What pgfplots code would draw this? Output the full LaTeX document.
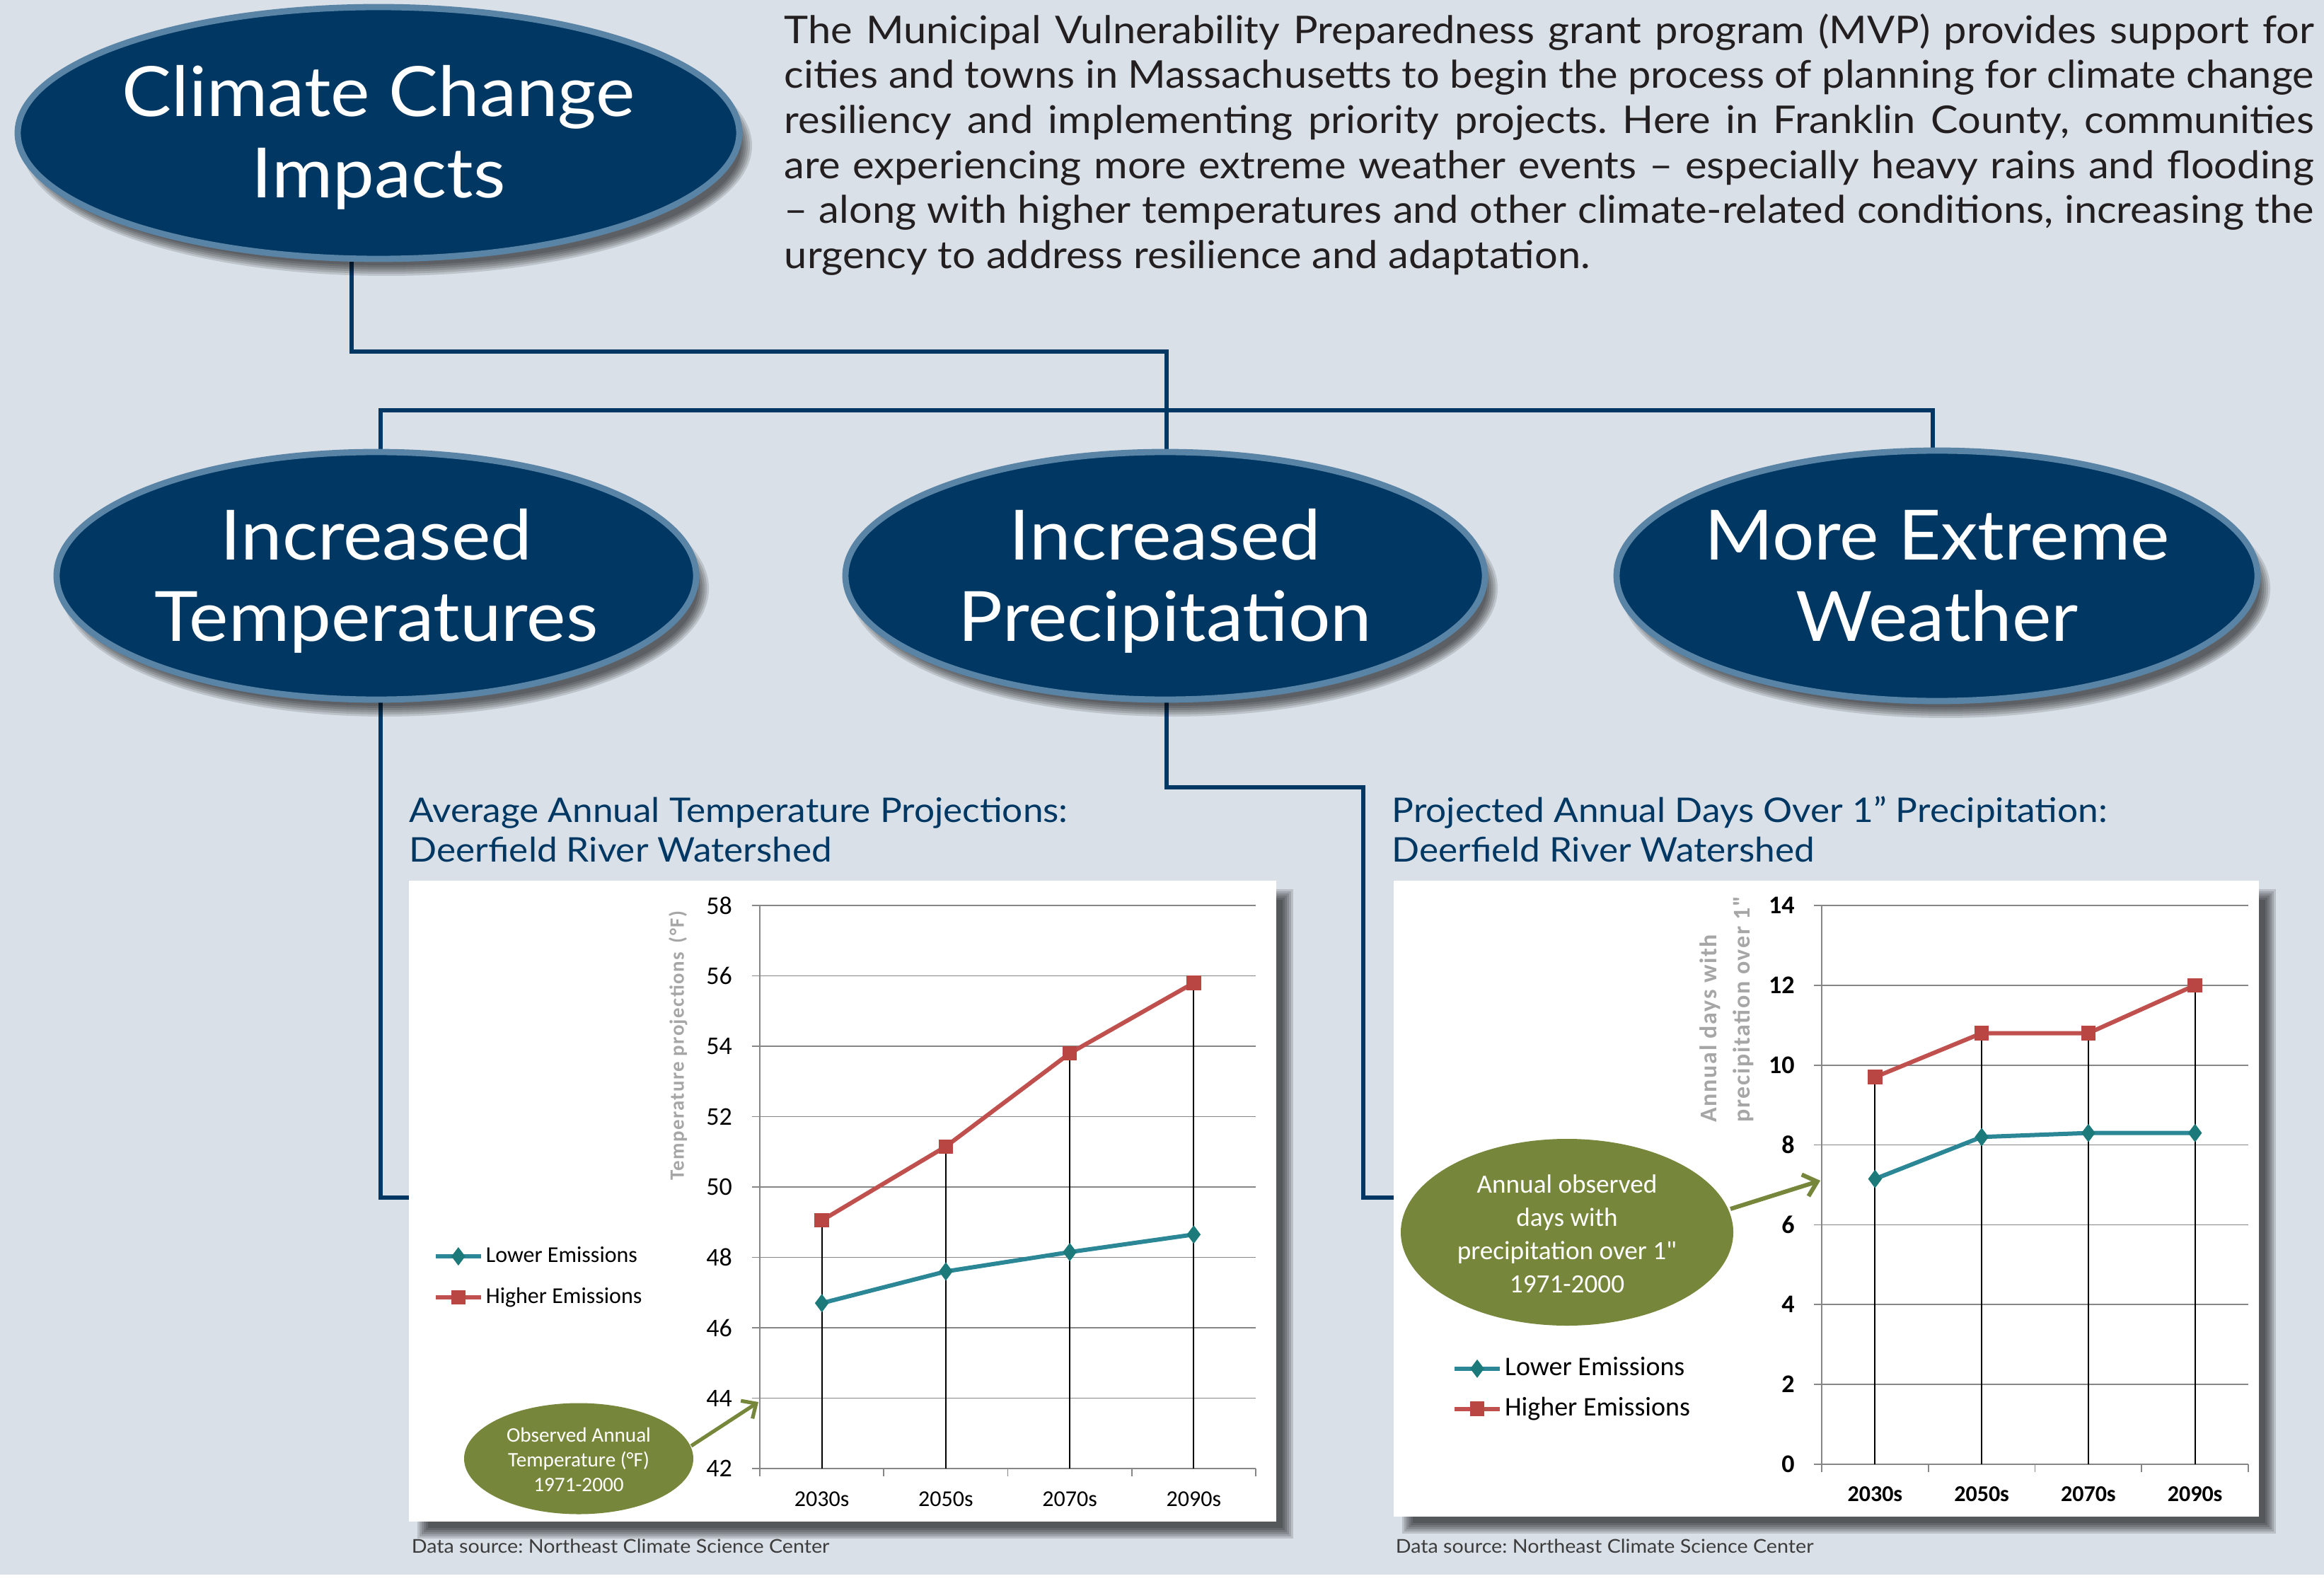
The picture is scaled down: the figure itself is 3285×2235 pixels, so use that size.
\documentclass[border=0pt]{standalone}
\usepackage{pgfplots}
\pgfplotsset{compat=1.18}
\usepackage{fontspec}
\setmainfont{Lato}[FakeStretch=1.07]
\newfontfamily\carlito{Carlito}
\newfontfamily\carlitols[LetterSpace=5]{Carlito}
\usetikzlibrary{arrows.meta}
\frenchspacing

\definecolor{bg}{RGB}{217,224,231}
\definecolor{navy}{RGB}{0,56,99}
\definecolor{rim}{RGB}{90,132,166}
\definecolor{olivegr}{RGB}{118,135,59}
\definecolor{redl}{RGB}{192,80,77}
\definecolor{redm}{RGB}{186,70,68}
\definecolor{teall}{RGB}{43,135,150}
\definecolor{tealm}{RGB}{28,122,122}
\definecolor{gridgray}{RGB}{134,134,134}
\definecolor{labgray}{RGB}{166,166,166}
\definecolor{txt}{RGB}{35,31,32}
\definecolor{srcgray}{RGB}{60,60,60}

% soft shadow + bubble with two lines of text
\newcommand{\bubble}[6]{%
  \foreach \e in {-9,-6,-3,0,3,6}
    \fill[black, opacity=0.13] (#1+12,#2+18) ellipse [x radius=#3+\e, y radius=#4+\e];
  \draw[line width=2.2pt, draw=rim, fill=navy] (#1,#2) ellipse [x radius=#3, y radius=#4];
  \node[anchor=base, inner sep=0, white, font=\fontsize{24.5}{29}\selectfont] at (#1,#2-23) {#5};
  \node[anchor=base, inner sep=0, white, font=\fontsize{24.5}{29}\selectfont] at (#1,#2+92) {#6};
}
\newcommand{\boxshadow}[4]{%
  \foreach \e in {-9,-6,-3,0,3,6}
    \fill[black, opacity=0.14] (#1+18-\e,#2+18-\e) rectangle (#3+18+\e,#4+18+\e);
  \fill[white] (#1,#2) rectangle (#3,#4);
}

\pgfplotsset{
  chart/.style={
    scale only axis, anchor=south west,
    xmin=-0.5, xmax=3.5,
    xtick={-0.5,0.5,1.5,2.5,3.5}, xticklabels={},
    extra x ticks={0,1,2,3},
    extra x tick labels={2030s,2050s,2070s,2090s},
    extra x tick style={major tick length=0pt},
    axis lines=left,
    axis line style={-, draw=gridgray, line width=0.45pt},
    ymajorgrids, grid style={gridgray, line width=0.45pt},
    tick align=outside, major tick length=2.75pt,
    tick style={gridgray, line width=0.45pt},
    /pgf/number format/assume math mode=true,
    legend cell align=left,
    legend image code/.code={%
      \draw[mark repeat=2, mark phase=2, ##1] plot coordinates {(0pt,0pt) (8pt,0pt) (16pt,0pt)};},
  },
  lowser/.style={teall, line width=1.5pt, mark=diamond*, mark size=3pt,
    mark options={solid, fill=tealm, draw=tealm, line width=0.3pt}},
  highser/.style={redl, line width=1.5pt, mark=square*, mark size=2.4pt,
    mark options={solid, fill=redm, draw=redm, line width=0.3pt}},
}

\begin{document}
\begin{tikzpicture}
\begin{scope}[x=0.25pt, y=-0.25pt]
  \fill[bg] (0,0) rectangle (3285,2235);
  \fill[white] (0,2226) rectangle (3285,2235);

  % introduction text
  \begin{scope}[every node/.style={anchor=base west, inner sep=0, text=txt,
      font=\fontsize{13.5}{16}\selectfont}]
    \node at (1108,62)  {\makebox[540.5pt][s]{The Municipal Vulnerability Preparedness grant program (MVP) provides support for}};
    \node at (1108,125) {\makebox[540.5pt][s]{cities and towns in Massachusetts to begin the process of planning for climate change}};
    \node at (1108,189) {\makebox[540.5pt][s]{resiliency and implementing priority projects. Here in Franklin County, communities}};
    \node at (1108,253) {\makebox[540.5pt][s]{are experiencing more extreme weather events – especially heavy rains and flooding}};
    \node at (1108,316) {\makebox[540.5pt][s]{– along with higher temperatures and other climate-related conditions, increasing the}};
    \node at (1108,380) {urgency to address resilience and adaptation.};
  \end{scope}

  % connectors
  \begin{scope}[navy, line width=1.6pt]
    \draw (497,340) -- (497,497) -- (1649,497) -- (1649,660);
    \draw (538,660) -- (538,580) -- (2732,580) -- (2732,660);
    \draw (538,960) -- (538,1693) -- (590,1693);
    \draw (1649,960) -- (1649,1113) -- (1927,1113) -- (1927,1693) -- (1980,1693);
  \end{scope}

  % bubbles
  \bubble{535}{188}{510}{178}{Climate Change}{Impacts}
  \bubble{532}{814}{452}{175}{Increased}{Temperatures}
  \bubble{1647}{814}{452}{175}{Increased}{Precipitation}
  \bubble{2738}{814}{453}{177}{More Extreme}{Weather}

  % chart titles
  \begin{scope}[every node/.style={anchor=base west, inner sep=0, text=navy,
      font=\fontsize{12}{14}\selectfont}]
    \node at (578,1162)  {Average Annual Temperature Projections:};
    \node at (578,1218)  {Deerfield River Watershed};
    \node at (1967,1162) {Projected Annual Days Over 1” Precipitation:};
    \node at (1967,1218) {Deerfield River Watershed};
  \end{scope}

  % chart panels
  \boxshadow{578}{1245}{1804}{2151}
  \boxshadow{1970}{1245}{3193}{2144}

  \begin{scope}[every node/.style={anchor=base west, inner sep=0, text=srcgray,
      font=\fontsize{6.7}{8}\selectfont}]
    \node at (581,2195)  {Data source: Northeast Climate Science Center};
    \node at (1972,2195) {Data source: Northeast Climate Science Center};
  \end{scope}

  \coordinate (ax1) at (1074,2076);
  \coordinate (ax2) at (2575,2070);
\end{scope}

% temperature chart
\begin{axis}[chart, at={(ax1)}, width=175.25pt, height=199pt,
    ymin=42, ymax=58, ytick={42,44,...,58},
    yticklabel style={font=\carlito\fontsize{9}{10}\selectfont, xshift=-3.5pt},
    xticklabel style={font=\carlito\fontsize{8}{9}\selectfont, yshift=-4.7pt},
    ylabel={\bfseries Temperature projections\hspace{0.45em}(°F)},
    ylabel style={at={(axis description cs:-0.165,0.751)}, anchor=center,
      font=\carlitols\fontsize{7.2}{8}\selectfont, text=labgray},
    legend style={at={(axis description cs:-0.659,0.403)}, anchor=north west,
      draw=none, fill=none, inner sep=0pt, row sep=4.5pt,
      font=\carlito\fontsize{8}{9.6}\selectfont,
      nodes={text height=6pt, text depth=2pt, inner sep=1pt}},
  ]
  \addplot[ycomb, black, line width=0.5pt, forget plot] coordinates {(0,49.05) (1,51.15) (2,53.8) (3,55.8)};
  \addplot[lowser] coordinates {(0,46.7) (1,47.6) (2,48.15) (3,48.65)};
  \addplot[highser] coordinates {(0,49.05) (1,51.15) (2,53.8) (3,55.8)};
  \legend{Lower Emissions, Higher Emissions}
\end{axis}

% precipitation chart
\begin{axis}[chart, at={(ax2)}, width=150.75pt, height=197.5pt,
    ymin=0, ymax=14, ytick={0,2,...,14},
    yticklabel style={font=\carlito\bfseries\fontsize{9}{10}\selectfont, xshift=-3.3pt},
    xticklabel style={font=\carlito\bfseries\fontsize{8}{9}\selectfont, yshift=-4.4pt},
    ylabel={Annual days with\\precipitation over 1"},
    ylabel style={at={(axis description cs:-0.222,0.594)}, anchor=west, align=left,
      font=\carlitols\bfseries\fontsize{8.5}{11.75}\selectfont, text=labgray},
    legend style={at={(axis description cs:-0.867,0.2005)}, anchor=north west,
      draw=none, fill=none, inner sep=0pt, row sep=3pt,
      font=\carlito\fontsize{9.5}{11}\selectfont,
      nodes={text height=7pt, text depth=2.2pt, inner sep=1pt}},
  ]
  \addplot[ycomb, black, line width=0.5pt, forget plot] coordinates {(0,9.7) (1,10.8) (2,10.8) (3,12.0)};
  \addplot[lowser] coordinates {(0,7.15) (1,8.2) (2,8.3) (3,8.3)};
  \addplot[highser] coordinates {(0,9.7) (1,10.8) (2,10.8) (3,12.0)};
  \legend{Lower Emissions, Higher Emissions}
\end{axis}

% observed-value call-outs
\begin{scope}[x=0.25pt, y=-0.25pt]
  \fill[olivegr] (818,2062) ellipse [x radius=162, y radius=78.5];
  \node[align=center, inner sep=0, white, font=\carlito\fontsize{7.3}{8.75}\selectfont]
    at (818,2063) {Observed Annual\\Temperature (°F)\\1971-2000};
  \draw[olivegr, line width=1.3pt, -{Straight Barb[length=4pt, width=7.5pt]}]
    (977,2044) -- (1072,1982);

  \fill[olivegr] (2215,1742) ellipse [x radius=235, y radius=132];
  \node[align=center, inner sep=0, white, font=\carlito\fontsize{9.3}{11.75}\selectfont]
    at (2215,1744) {Annual observed\\days with\\precipitation over 1"\\1971-2000};
  \draw[olivegr, line width=1.5pt, -{Straight Barb[length=4.5pt, width=8pt]}]
    (2446,1709) -- (2573,1669);

  \pgfresetboundingbox
  \path[use as bounding box] (0,0) rectangle (3285,2235);
\end{scope}
\end{tikzpicture}
\end{document}
